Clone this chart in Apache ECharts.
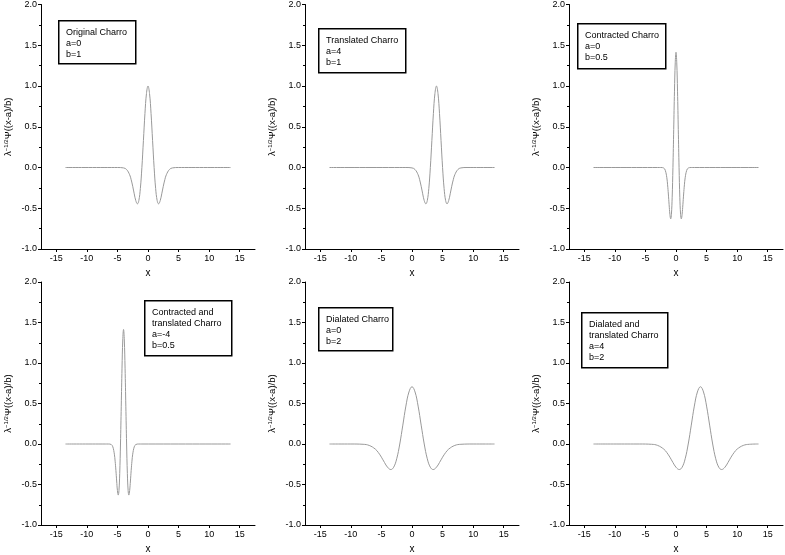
<!DOCTYPE html>
<html>
<head>
<meta charset="utf-8">
<script src="https://cdn.jsdelivr.net/npm/echarts@6/dist/echarts.min.js"></script>
<style>
  html, body { margin: 0; padding: 0; background: #fff; }
  #chart { width: 785px; height: 555px; }
</style>
</head>
<body>
<div id="chart"></div>
<script>
// Charro (Mexican hat) shape (a=0, b=1)
const shapeT = [-13.5, -6, -5, -4, -3.5, -3, -2.75, -2.5, -2.25, -2, -1.73, -1.5, -1.25, -1, -0.75, -0.5, -0.25, 0,
  0.25, 0.5, 0.75, 1, 1.25, 1.5, 1.73, 2, 2.25, 2.5, 2.75, 3, 3.5, 4, 5, 6, 13.5]
const shapeV = [0, 0, 0, -0.005, -0.025, -0.089, -0.15, -0.23, -0.323, -0.406, -0.446, -0.406, -0.258, 0, 0.33, 0.662, 0.908, 1,
  0.908, 0.662, 0.33, 0, -0.258, -0.406, -0.446, -0.406, -0.323, -0.23, -0.15, -0.089, -0.025, -0.005, 0, 0, 0]

// panel parameters from the legend boxes
const titles = [
  ['Original Charro', 'a=0', 'b=1'],
  ['Translated Charro', 'a=4', 'b=1'],
  ['Contracted Charro', 'a=0', 'b=0.5'],
  ['Contracted and', 'translated Charro', 'a=-4', 'b=0.5'],
  ['Dialated Charro', 'a=0', 'b=2'],
  ['Dialated and', 'translated Charro', 'a=4', 'b=2']
]
const aVals = [0, 4, 0, -4, 0, 4]
const bVals = [1, 1, 0.5, 0.5, 2, 2]
const xTicks = [-15, -10, -5, 0, 5, 10, 15]

// legend box positions [left, top, width, height]
const boxes = [[58, 20, 77, 43], [318, 28, 87, 44], [577, 23, 88, 45], [144, 300, 87, 55], [318, 307, 74, 43], [581, 312, 86, 55]]

const lefts = [41, 305, 569]
const tops = [4, 282]
const W = 214, H = 245

const grids = [], xAxes = [], yAxes = [], series = [], graphic = []
for (let i = 0; i < 6; i++) {
  const col = i % 3, row = Math.floor(i / 3)
  grids.push({ left: lefts[col], top: tops[row], width: W, height: H })
  const a = aVals[i], b = bVals[i]
  // the curve spans -13.5..13.5 in every panel
  const pts = []
  shapeT.forEach((t, k) => {
    const x = a + b * t
    if (k === 0) pts.push([-13.5, 0])
    else if (k === shapeT.length - 1) pts.push([13.5, 0])
    else if (x > -13.5 && x < 13.5) pts.push([x, shapeV[k] / Math.sqrt(b)])
  })
  xAxes.push({
    gridIndex: i, type: 'value', min: -17.5, max: 17.5, interval: 5,
    name: 'x', nameLocation: 'middle', nameGap: 19,
    nameTextStyle: { fontSize: 10, color: '#000', fontFamily: 'Liberation Sans' },
    axisLine: { onZero: false, lineStyle: { color: '#000', width: 1 } },
    axisTick: { length: 3, lineStyle: { color: '#000' }, customValues: xTicks },
    minorTick: { show: true, splitNumber: 2, length: 2, lineStyle: { color: '#000' } },
    axisLabel: { fontSize: 9, color: '#000', margin: 5, customValues: xTicks, fontFamily: 'Liberation Sans' },
    splitLine: { show: false }
  })
  yAxes.push({
    gridIndex: i, type: 'value', min: -1, max: 2, interval: 0.5,
    name: '{n|λ}{s|−1/2}{n|Ψ((x-a)/b)}', nameLocation: 'middle', nameGap: 28, nameRotate: 90,
    nameTextStyle: { rich: { n: { fontSize: 9.5, color: '#000', fontFamily: 'Liberation Sans' }, s: { fontSize: 6, color: '#000', verticalAlign: 'top', padding: [0, 0, 4, 0] } } },
    axisLine: { onZero: false, lineStyle: { color: '#000', width: 1 } },
    axisTick: { length: 3, lineStyle: { color: '#000' } },
    minorTick: { show: true, splitNumber: 2, length: 2, lineStyle: { color: '#000' } },
    axisLabel: { fontSize: 9, color: '#000', margin: 4, fontFamily: 'Liberation Sans', formatter: v => v.toFixed(1) },
    splitLine: { show: false }
  })
  series.push({
    type: 'line', xAxisIndex: i, yAxisIndex: i, data: pts, smooth: 0.4,
    showSymbol: false, lineStyle: { color: '#999', width: 1 }, silent: true
  })
  const bx = boxes[i]
  graphic.push({
    type: 'rect', left: bx[0], top: bx[1],
    shape: { width: bx[2], height: bx[3] },
    style: { fill: '#fff', stroke: '#000', lineWidth: 1.5 }
  })
  graphic.push({
    type: 'text', left: bx[0] + 8, top: bx[1] + 7,
    style: { text: titles[i].join('\n'), fontSize: 9, lineHeight: 11, fill: '#000', fontFamily: 'Liberation Sans' }
  })
}

const chart = echarts.init(document.getElementById('chart'))
chart.setOption({
  animation: false,
  grid: grids, xAxis: xAxes, yAxis: yAxes, series, graphic
})
</script>
</body>
</html>
